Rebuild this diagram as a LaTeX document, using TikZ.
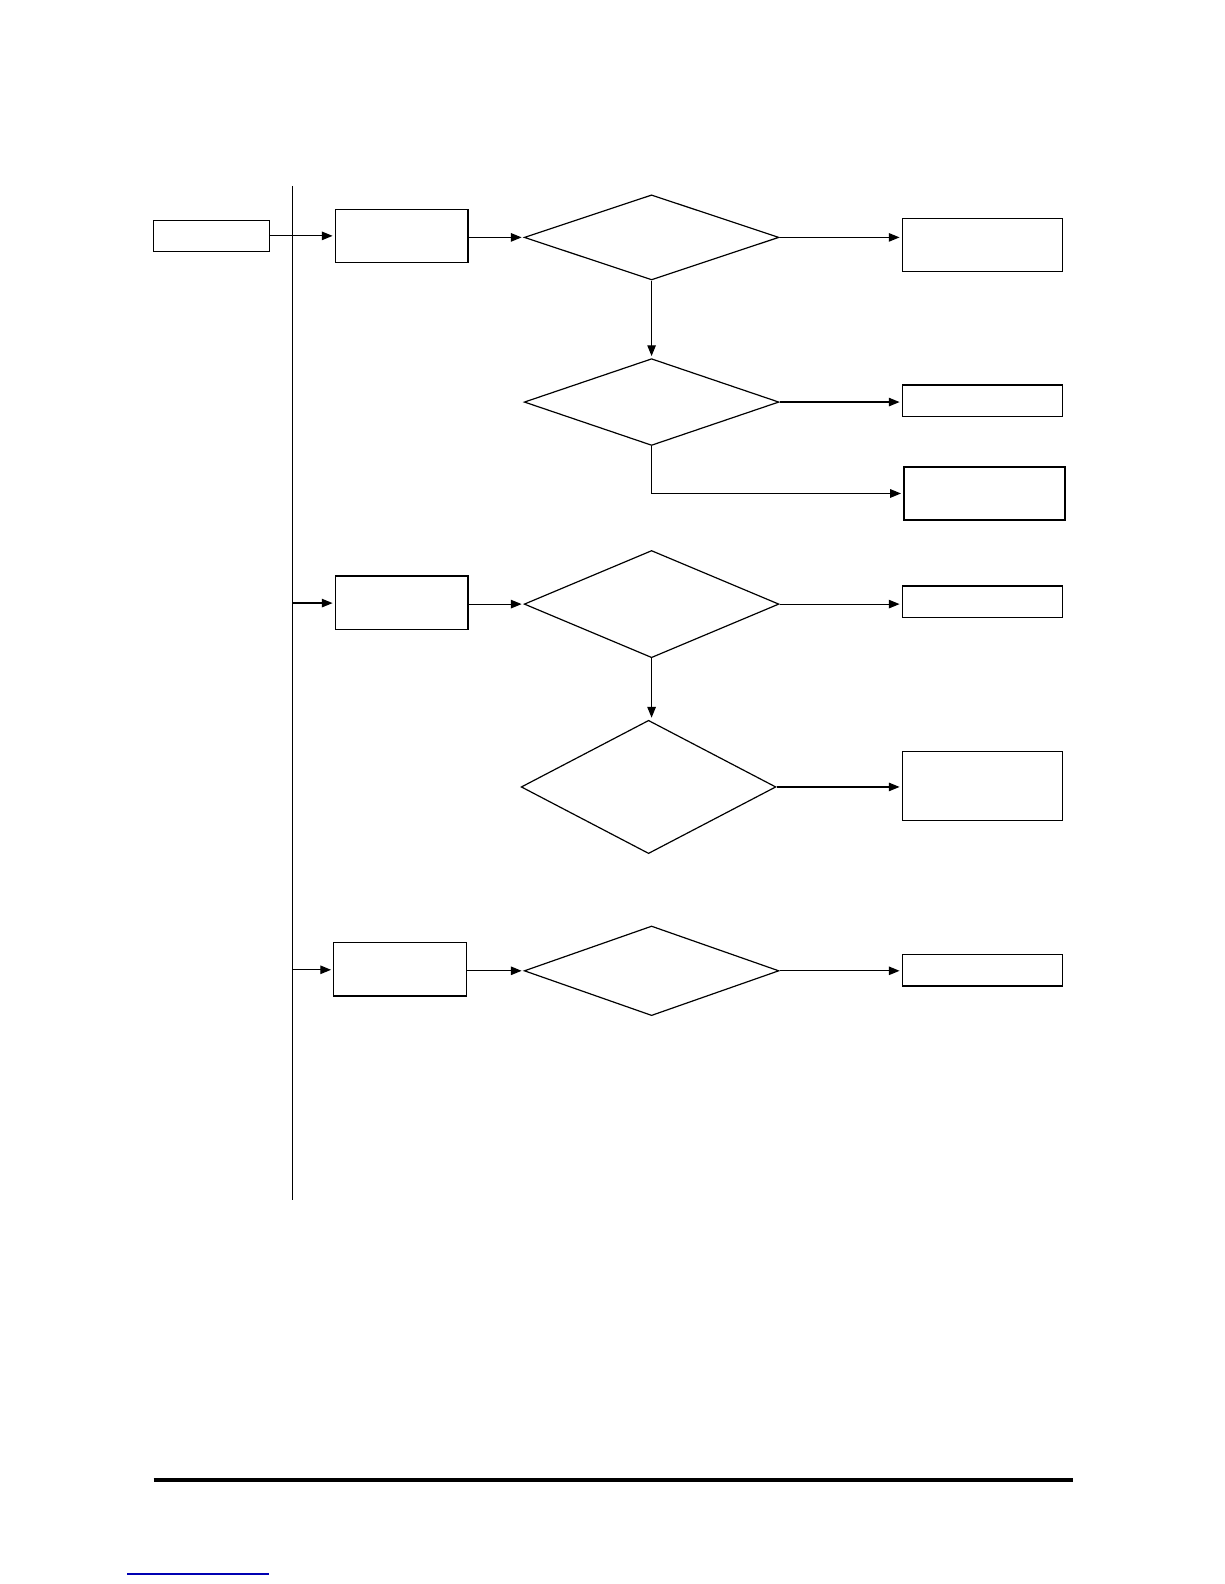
\documentclass[tikz,border=0pt]{standalone}
\usepackage{tikz}
\usetikzlibrary{arrows.meta,shapes.geometric}

\begin{document}
\begin{tikzpicture}[x=0.0178cm, y=-0.0178cm, line width=0.6pt,
  box/.style={draw=black, rectangle, inner sep=0pt, minimum width=2.83cm, minimum height=0.94cm},
  smallbox/.style={draw=black, rectangle, inner sep=0pt, minimum width=2.83cm, minimum height=0.55cm},
  stepbox/.style={draw=black, rectangle, inner sep=0pt, minimum width=2.34cm, minimum height=0.94cm},
  dec/.style={draw=black, diamond, inner sep=0pt, minimum width=4.49cm},
  arr/.style={-{Triangle[length=1.9mm, width=1.5mm]}, shorten >=1pt}]
\useasboundingbox (0,0) rectangle (1212,1568);
% --- main branch line ---
\coordinate (top) at (290,184);
\coordinate (bot) at (290,1188);
\draw[line width=0.5pt] (top) -- (bot);
\coordinate (b2) at (290,597);
\coordinate (b3) at (290,960);
% --- start ---
\node[draw=black, rectangle, inner sep=0pt, minimum width=2.05cm, minimum height=0.55cm] (start) at (209.5,233.5) {};
% --- first branch ---
\node[stepbox] (a1) at (397.5,233.5) {};
\node[dec, minimum height=1.50cm] (d1) at (645,235) {};
\node[box] (r1) at (972.5,242.5) {};
\node[dec, minimum height=1.53cm] (d2) at (645,398) {};
\node[smallbox] (r2) at (972.5,396.5) {};
\node[box, line width=1.2pt] (r3) at (974.5,488.5) {};
% --- second branch ---
\node[stepbox] (b1) at (397.5,596.5) {};
\node[dec, minimum height=1.89cm] (d3) at (645,598) {};
\node[smallbox] (r4) at (972.5,595.5) {};
\node[dec, minimum height=2.35cm] (d4) at (642,779) {};
\node[box, minimum height=1.21cm] (r5) at (972.5,778) {};
% --- third branch ---
\node[stepbox] (c1) at (396,959.5) {};
\node[dec, minimum height=1.58cm] (d5) at (645,961) {};
\node[smallbox] (r6) at (972.5,960.5) {};
% --- arrows ---
\draw[arr] (start.east) -- (start.east -| a1.west);
\draw[arr] (a1.east |- d1.west) -- (d1.west);
\draw[arr] (d1.east) -- (d1.east -| r1.west);
\draw[arr] (d1.south) -- (d2.north);
\draw[arr] (d2.east) -- (d2.east -| r2.west);
\draw[arr] (d2.south) |- (r3.west);
\draw[arr] (b2) -- (b2 -| b1.west);
\draw[arr] (b1.east |- d3.west) -- (d3.west);
\draw[arr] (d3.east) -- (d3.east -| r4.west);
\draw[arr] (d3.south) -- (d3.south |- d4.north);
\draw[arr] (d4.east) -- (d4.east -| r5.west);
\draw[arr] (b3) -- (b3 -| c1.west);
\draw[arr] (c1.east |- d5.west) -- (d5.west);
\draw[arr] (d5.east) -- (d5.east -| r6.west);
% --- page rule and link mark ---
\draw[line width=2.2pt] (152,1465) -- (1062,1465);
\draw[blue!70!black, line width=0.6pt] (126,1558) -- (266,1558);
\end{tikzpicture}
\end{document}
